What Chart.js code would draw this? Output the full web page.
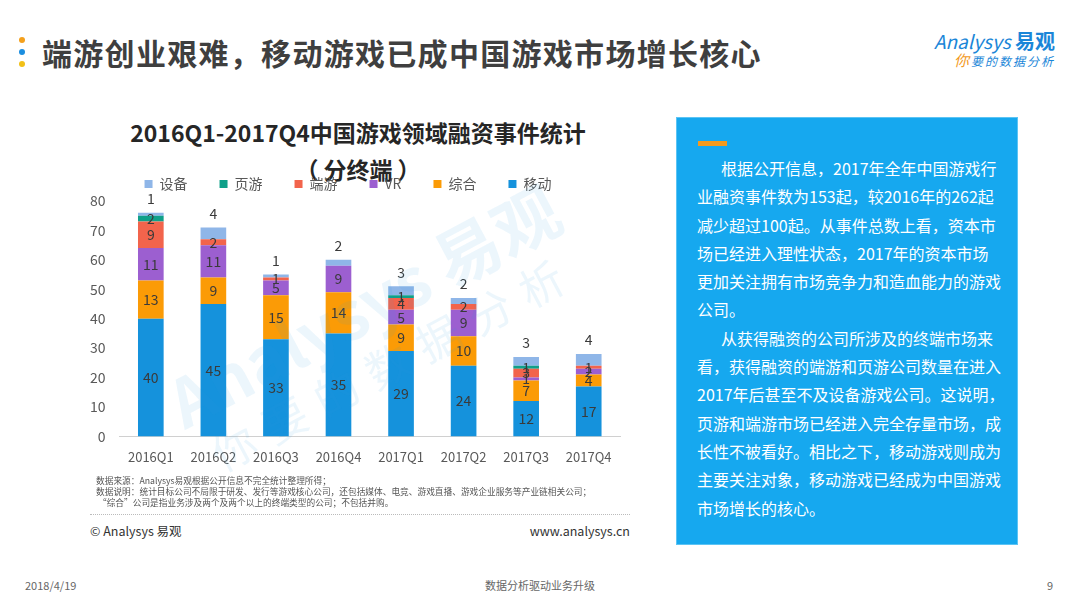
<!DOCTYPE html>
<html>
<head>
<meta charset="utf-8">
<script src="https://cdn.jsdelivr.net/npm/chart.js@4.4.1/dist/chart.umd.min.js"></script>
<style>
  html, body { margin: 0; padding: 0; }
  body {
    width: 1080px; height: 608px; position: relative; overflow: hidden;
    background: #fff;
    font-family: "Noto Sans CJK SC", "Noto Sans", sans-serif;
  }
  .dot { position: absolute; left: 19px; width: 6px; height: 6px; border-radius: 3px; }
  #page-title {
    position: absolute; left: 42px; top: 31px;
    font-size: 30px; font-weight: bold; color: #3f3f3f; line-height: 42px; letter-spacing: 1.3px;
  }
  #logo { position: absolute; right: 25px; top: 29px; text-align: right; }
  #logo .l1 { color: #1a86d8; font-size: 19px; font-style: italic; line-height: 23px; }
  #logo .l1 b { font-style: normal; font-size: 20px; }
  #logo .l2 { color: #1a86d8; font-size: 12px; font-style: italic; letter-spacing: 2px; line-height: 16px; }
  #logo .l2 span { color: #f39a1e; font-size: 15px; }
  #chart-title {
    position: absolute; left: 80px; width: 556px; top: 114px;
    text-align: center; font-size: 23px; font-weight: bold; color: #262626; line-height: 37px;
  }
  #chart-title .inner { margin: 0 5px; }
  #chart-wrap { position: absolute; left: 76px; top: 145px; width: 564px; height: 333px; }
  #watermark {
    position: absolute; left: 145px; top: 262px; width: 460px;
    transform: rotate(-28deg); transform-origin: center;
    color: rgba(40, 150, 220, 0.09); pointer-events: none; text-align: center;
  }
  #watermark .w1 { font-size: 66px; font-weight: bold; line-height: 76px; }
  #watermark .w2 { font-size: 44px; letter-spacing: 14px; line-height: 54px; }
  #notes {
    position: absolute; left: 96px; top: 475px;
    font-size: 8.7px; color: #555; line-height: 11px;
  }
  #sep { position: absolute; left: 90px; top: 514px; width: 540px; border-top: 1px dotted #bbb; }
  #copy { position: absolute; left: 90px; top: 521px; font-size: 12.5px; color: #333; }
  #site { position: absolute; right: 450px; top: 521px; font-size: 12.5px; color: #333; }
  #panel {
    position: absolute; left: 676px; top: 117px; width: 342px; height: 428px;
    background: #16a8ef; box-sizing: border-box; border: 1px solid #5cc4f4;
  }
  #panel .bar { position: absolute; left: 21px; top: 23px; width: 29px; height: 5px; background: #f39a1e; }
  #panel .text {
    position: absolute; left: 20px; top: 36px;
    color: #fff; font-size: 16px; line-height: 28.3px; white-space: nowrap;
  }
  #panel .text .ind { padding-left: 24px; }
  .foot { position: absolute; top: 577px; font-size: 11px; color: #666; }
</style>
</head>
<body>
  <div class="dot" style="top:37px;background:#f4a01c"></div>
  <div class="dot" style="top:49px;background:#1b8ee0"></div>
  <div class="dot" style="top:61px;background:#f2c018"></div>
  <div id="page-title">端游创业艰难，移动游戏已成中国游戏市场增长核心</div>

  <div id="logo">
    <div class="l1">Analysys <b>易观</b></div>
    <div class="l2"><span>你</span>要的数据分析</div>
  </div>

  <div id="chart-title">2016Q1-2017Q4中国游戏领域融资事件统计<br>（<span class="inner">分终端</span>）</div>
  <div id="chart-wrap"><canvas id="mainChart"></canvas></div>
  <div id="watermark"><div class="w1">Analysys 易观</div><div class="w2">你要的数据分析</div></div>

  <div id="notes">
    数据来源：Analysys易观根据公开信息不完全统计整理所得；<br>
    数据说明：统计目标公司不局限于研发、发行等游戏核心公司，还包括媒体、电竞、游戏直播、游戏企业服务等产业链相关公司；<br>
    &nbsp;“综合”公司是指业务涉及两个及两个以上的终端类型的公司；不包括并购。
  </div>
  <div id="sep"></div>
  <div id="copy">© Analysys 易观</div>
  <div id="site">www.analysys.cn</div>

  <div id="panel">
    <div class="bar"></div>
    <div class="text">
      <div class="ind">根据公开信息，2017年全年中国游戏行</div>
      <div>业融资事件数为153起，较2016年的262起</div>
      <div>减少超过100起。从事件总数上看，资本市</div>
      <div>场已经进入理性状态，2017年的资本市场</div>
      <div>更加关注拥有市场竞争力和造血能力的游戏</div>
      <div>公司。</div>
      <div class="ind">从获得融资的公司所涉及的终端市场来</div>
      <div>看，获得融资的端游和页游公司数量在进入</div>
      <div>2017年后甚至不及设备游戏公司。这说明，</div>
      <div>页游和端游市场已经进入完全存量市场，成</div>
      <div>长性不被看好。相比之下，移动游戏则成为</div>
      <div>主要关注对象，移动游戏已经成为中国游戏</div>
      <div>市场增长的核心。</div>
    </div>
  </div>

  <div class="foot" style="left:25px">2018/4/19</div>
  <div class="foot" style="left:0;width:1080px;text-align:center">数据分析驱动业务升级</div>
  <div class="foot" style="right:27px">9</div>

<script>
document.addEventListener('DOMContentLoaded', () => {

    /* -------------------- DATA -------------------- */

    const quarters = ['2016Q1', '2016Q2', '2016Q3', '2016Q4', '2017Q1', '2017Q2', '2017Q3', '2017Q4'];
    const mobile   = [40, 45, 33, 35, 29, 24, 12, 17];   // 移动
    const mixed    = [13, 9, 15, 14, 9, 10, 7, 4];       // 综合
    const vr       = [11, 11, 5, 9, 5, 9, 1, 2];         // VR
    const client   = [9, 2, 1, 0, 4, 2, 3, 1];           // 端游
    const webGame  = [2, 0, 0, 0, 1, 0, 1, 0];           // 页游
    const device   = [1, 4, 1, 2, 3, 2, 3, 4];           // 设备
    const yTicks   = [0, 10, 20, 30, 40, 50, 60, 70, 80];

    const series = [
        { label: '移动', data: mobile,  color: '#1592dc' },
        { label: '综合', data: mixed,   color: '#fb9b06' },
        { label: 'VR',   data: vr,      color: '#9c5fd0' },
        { label: '端游', data: client,  color: '#f2644c' },
        { label: '页游', data: webGame, color: '#0fa089' },
        { label: '设备', data: device,  color: '#8fb6e8' }
    ];

    /* -------------------- LABELS -------------------- */

    // values centred in each segment, the top series written above the stack
    const valueLabels = {
        id: 'valueLabels',
        afterDatasetsDraw(chart) {
            const ctx = chart.ctx;
            const last = chart.data.datasets.length - 1;
            ctx.save();
            ctx.font = '14px "Noto Sans CJK SC", sans-serif';
            ctx.fillStyle = '#3a3a3a';
            ctx.textAlign = 'center';
            ctx.textBaseline = 'middle';
            chart.data.datasets.forEach((ds, i) => {
                const meta = chart.getDatasetMeta(i);
                meta.data.forEach((bar, j) => {
                    const v = ds.data[j];
                    if (!v) return;
                    if (i === last) {
                        ctx.fillText(v, bar.x, bar.y - 14);
                    } else {
                        ctx.fillText(v, bar.x, (bar.y + bar.base) / 2);
                    }
                });
            });
            ctx.restore();
        }
    };

    /* -------------------- CHART -------------------- */

    function renderChart() {
        const canvas = document.getElementById('mainChart');
        if (!canvas) return;

        new Chart(canvas, {
            type: 'bar',
            data: {
                labels: quarters,
                datasets: series.map(s => ({
                    label: s.label,
                    data: s.data,
                    backgroundColor: s.color,
                    barPercentage: 0.41,
                    categoryPercentage: 1
                }))
            },
            options: {
                responsive: true,
                maintainAspectRatio: false,
                animation: false,
                layout: { padding: { left: 0, right: 20, top: 0, bottom: 0 } },
                plugins: {
                    legend: {
                        display: true,
                        position: 'top',
                        reverse: true,
                        labels: {
                            boxWidth: 8,
                            boxHeight: 8,
                            padding: 32,
                            color: '#595959',
                            font: { size: 14, family: '"Noto Sans CJK SC", sans-serif' }
                        }
                    },
                    tooltip: { enabled: false }
                },
                scales: {
                    x: {
                        stacked: true,
                        grid: { display: false, drawTicks: false },
                        border: { color: '#d0d0d0', width: 1 },
                        ticks: { color: '#595959', font: { size: 13, family: '"Noto Sans CJK SC", sans-serif' }, padding: 13 }
                    },
                    y: {
                        stacked: true,
                        min: yTicks[0],
                        max: yTicks[yTicks.length - 1],
                        afterBuildTicks: axis => { axis.ticks = yTicks.map(v => ({ value: v })); },
                        grid: { display: false, drawTicks: false },
                        border: { display: false },
                        ticks: { color: '#595959', font: { size: 14, family: '"Noto Sans CJK SC", sans-serif' }, padding: 14 }
                    }
                }
            },
            plugins: [valueLabels]
        });
    }

    renderChart();
});
</script>
</body>
</html>
